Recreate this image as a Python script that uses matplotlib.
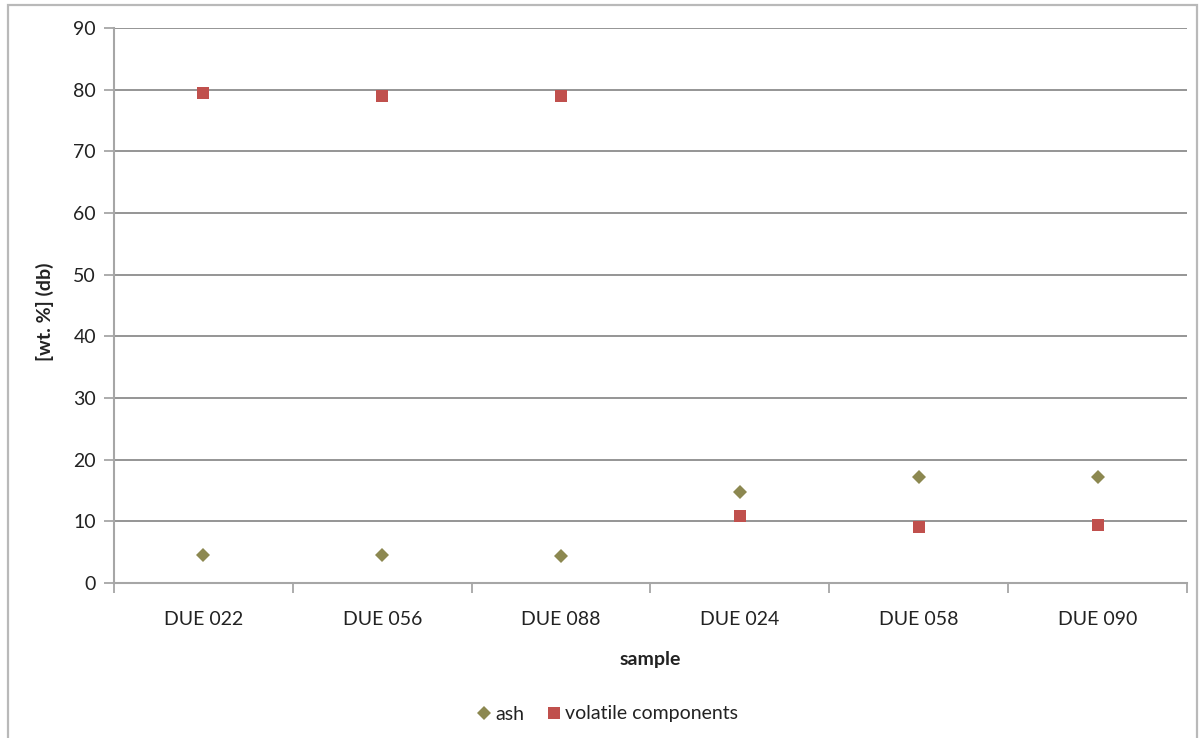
import matplotlib
matplotlib.use("Agg")
import matplotlib.pyplot as plt
from matplotlib.patches import Rectangle
from matplotlib.lines import Line2D
import numpy as np

samples = ["DUE 022", "DUE 056", "DUE 088", "DUE 024", "DUE 058", "DUE 090"]
ash = [4.5, 4.5, 4.4, 14.7, 17.2, 17.2]
volatile = [79.4, 78.9, 78.9, 10.9, 9.1, 9.4]
y_ticks = [0, 10, 20, 30, 40, 50, 60, 70, 80, 90]

plt.rcParams["font.family"] = ["Lato", "DejaVu Sans"]

W, H = 1201, 738
fig = plt.figure(figsize=(W / 100, H / 100), dpi=100)
fig.patch.set_facecolor("white")

# outer chart frame
fig.patches.append(Rectangle((8 / W, -0.05), (1197 - 8) / W, 1 - 5 / H + 0.05,
                             transform=fig.transFigure, fill=False,
                             edgecolor="#b9b9b9", linewidth=1.6, zorder=0))

ax = fig.add_axes([114 / W, 1 - 583 / H, (1187 - 114) / W, (583 - 28) / H])
x = np.arange(len(samples))

grid_c = "#8c8c8c"
axis_c = "#a6a6a6"
text_c = "#222222"
fs = 14
for v in y_ticks[1:]:
    ax.axhline(v, color=grid_c, linewidth=1.3, zorder=1)

ax.plot(x, ash, linestyle="none", marker="D", markersize=7.5,
        color="#8c8850", markeredgewidth=0, zorder=3, label="ash")
ax.plot(x, volatile, linestyle="none", marker="s", markersize=8.5,
        color="#c0504d", markeredgewidth=0, zorder=3, label="volatile components")

ax.set_xlim(-0.5, len(samples) - 0.5)
ax.set_ylim(0, 90)
ax.set_yticks(y_ticks)
ax.set_yticklabels([str(v) for v in y_ticks], fontsize=fs, color=text_c)
ax.set_xticks(x)
ax.set_xticklabels(samples, fontsize=fs, color=text_c)
ax.set_xticks(np.arange(-0.5, len(samples), 1.0), minor=True)
ax.tick_params(axis="x", which="major", length=0, pad=20)
ax.tick_params(axis="x", which="minor", length=7, width=1.3, color=axis_c, direction="out")
ax.tick_params(axis="y", which="major", length=7, width=1.3, color=axis_c, pad=6)

for side in ["top", "right"]:
    ax.spines[side].set_visible(False)
for side in ["left", "bottom"]:
    ax.spines[side].set_color(axis_c)
    ax.spines[side].set_linewidth(1.5)

fig.text(650 / W, 1 - 660 / H, "sample", ha="center", va="center",
         fontsize=fs, fontweight="bold", color=text_c)
fig.text(45 / W, 1 - 312 / H, "[wt. %] (db)", ha="center", va="center",
         rotation=90, fontsize=fs, fontweight="bold", color=text_c)

handles = [Line2D([], [], linestyle="none", marker="D", markersize=7,
                  color="#8c8850", markeredgewidth=0),
           Line2D([], [], linestyle="none", marker="s", markersize=8,
                  color="#c0504d", markeredgewidth=0)]
fig.legend(handles, ["ash", "volatile components"], loc="center",
           bbox_to_anchor=(608 / W, 1 - 714 / H), ncol=2, frameon=False,
           fontsize=fs, handlelength=0.6, handletextpad=0.3, columnspacing=1.2,
           labelcolor=text_c)

fig.savefig("out.png", dpi=100, facecolor="white")
